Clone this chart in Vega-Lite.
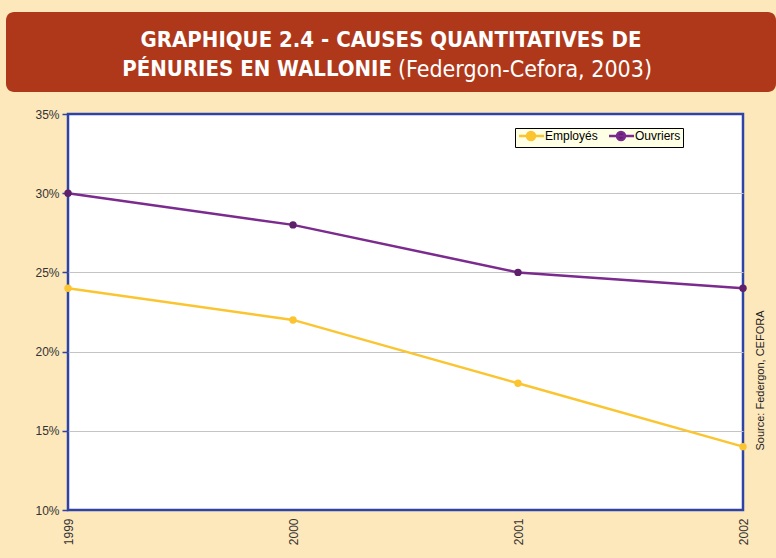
{
  "$schema": "https://vega.github.io/schema/vega-lite/v6.json",
  "background": "#FDE8BC",
  "padding": {"left": 6, "top": 12, "right": 0, "bottom": 14},
  "spacing": 14,
  "config": {"font": "Liberation Sans"},
  "datasets": {
    "banner": [
      {"line": 1, "part": "main", "text": "GRAPHIQUE 2.4 - CAUSES QUANTITATIVES DE"},
      {"line": 2, "part": "main", "text": "PÉNURIES EN WALLONIE"},
      {"line": 2, "part": "source", "text": "(Federgon-Cefora, 2003)"}
    ],
    "shortages": [
      {"year": "1999", "series": "Employés", "share": 0.24},
      {"year": "2000", "series": "Employés", "share": 0.22},
      {"year": "2001", "series": "Employés", "share": 0.18},
      {"year": "2002", "series": "Employés", "share": 0.14},
      {"year": "1999", "series": "Ouvriers", "share": 0.30},
      {"year": "2000", "series": "Ouvriers", "share": 0.28},
      {"year": "2001", "series": "Ouvriers", "share": 0.25},
      {"year": "2002", "series": "Ouvriers", "share": 0.24}
    ]
  },
  "vconcat": [
    {
      "width": 770,
      "height": 80,
      "view": {"fill": "#B0381A", "stroke": null, "cornerRadius": 8},
      "data": {"name": "banner"},
      "layer": [
        {
          "transform": [{"filter": "datum.line == 1"}],
          "mark": {"type": "text", "font": "DejaVu Sans Condensed, sans-serif", "fontSize": 22, "fontWeight": "bold", "color": "white", "baseline": "middle", "align": "center", "dy": -12},
          "encoding": {"text": {"field": "text"}}
        },
        {
          "transform": [{"filter": "datum.line == 2 && datum.part == 'main'"}],
          "mark": {"type": "text", "font": "DejaVu Sans Condensed, sans-serif", "fontSize": 22, "fontWeight": "bold", "color": "white", "baseline": "middle", "align": "right", "dy": 17, "dx": 1},
          "encoding": {"text": {"field": "text"}}
        },
        {
          "transform": [{"filter": "datum.line == 2 && datum.part == 'source'"}],
          "mark": {"type": "text", "font": "DejaVu Sans Condensed, sans-serif", "fontSize": 23, "fontWeight": "normal", "color": "white", "baseline": "middle", "align": "left", "dy": 18, "dx": 7},
          "encoding": {"text": {"field": "text"}}
        }
      ]
    },
    {
      "spacing": 0,
      "hconcat": [
        {
          "width": 0,
          "height": 396,
          "view": {"stroke": null, "fill": null},
          "data": {"values": []},
          "mark": "text"
        },
        {
          "width": 675,
          "height": 396,
          "view": {"fill": "white", "stroke": "#2F43A6", "strokeWidth": 2.5},
          "data": {"name": "shortages"},
          "encoding": {
            "x": {
              "field": "year", "type": "ordinal",
              "scale": {"type": "point", "padding": 0},
              "axis": {"title": null, "labelAngle": 270, "labelFontSize": 12, "labelColor": "#333", "ticks": false, "domain": false, "grid": false, "labelPadding": 8}
            }
          },
          "layer": [
            {
              "mark": {"type": "line", "strokeWidth": 2.5},
              "encoding": {
                "y": {
                  "field": "share", "type": "quantitative",
                  "scale": {"domain": [0.1, 0.35], "nice": false},
                  "axis": {
                    "orient": "left", "values": [0.1, 0.15, 0.2, 0.25, 0.3, 0.35], "format": ".0%", "title": null,
                    "labelFontSize": 12, "labelColor": "#333", "labelPadding": 3,
                    "tickColor": "#2F43A6", "tickSize": 6, "tickWidth": 1.5, "domain": false,
                    "grid": true, "gridWidth": 1.2,
                    "gridColor": {"condition": {"test": "datum.value > 0.11 && datum.value < 0.34", "value": "#C4C4C4"}, "value": "transparent"},
                    "minExtent": 40
                  }
                },
                "color": {
                  "field": "series", "type": "nominal",
                  "scale": {"domain": ["Employés", "Ouvriers"], "range": ["#FBC531", "#7B2A8E"]},
                  "legend": {
                    "title": null, "orient": "none", "legendX": 509, "legendY": 116, "direction": "horizontal",
                    "fillColor": "#FFFFE6", "strokeColor": "#000000", "padding": 2, "cornerRadius": 0,
                    "labelFontSize": 12, "labelColor": "#000000", "labelOffset": 16, "columnPadding": 6,
                    "symbolType": "M-1,0L5.25,0M1,0A1,1,0,1,0,3,0A1,1,0,1,0,1,0Z",
                    "symbolSize": 64, "symbolStrokeWidth": 2.5,
                    "encode": {"symbols": {"update": {"fill": {"scale": "color", "field": "value"}}}}
                  }
                }
              }
            },
            {
              "mark": {"type": "point", "filled": true, "size": 55, "opacity": 1},
              "encoding": {
                "y": {
                  "field": "share", "type": "quantitative",
                  "scale": {"domain": [0.1, 0.35], "nice": false},
                  "axis": {
                    "orient": "right", "labels": false, "ticks": false, "domain": false, "grid": false,
                    "title": "Source: Federgon, CEFORA", "titleAngle": 270, "titleFontSize": 11, "titleFontWeight": "normal",
                    "titleColor": "#222", "titleX": 17, "titleY": 266, "titleAlign": "center", "titleBaseline": "middle"
                  }
                },
                "fill": {
                  "field": "series", "type": "nominal",
                  "scale": {"domain": ["Employés", "Ouvriers"], "range": ["#FBC531", "#5E1F6B"]},
                  "legend": null
                }
              }
            }
          ],
          "resolve": {"axis": {"y": "independent"}}
        }
      ]
    }
  ]
}
